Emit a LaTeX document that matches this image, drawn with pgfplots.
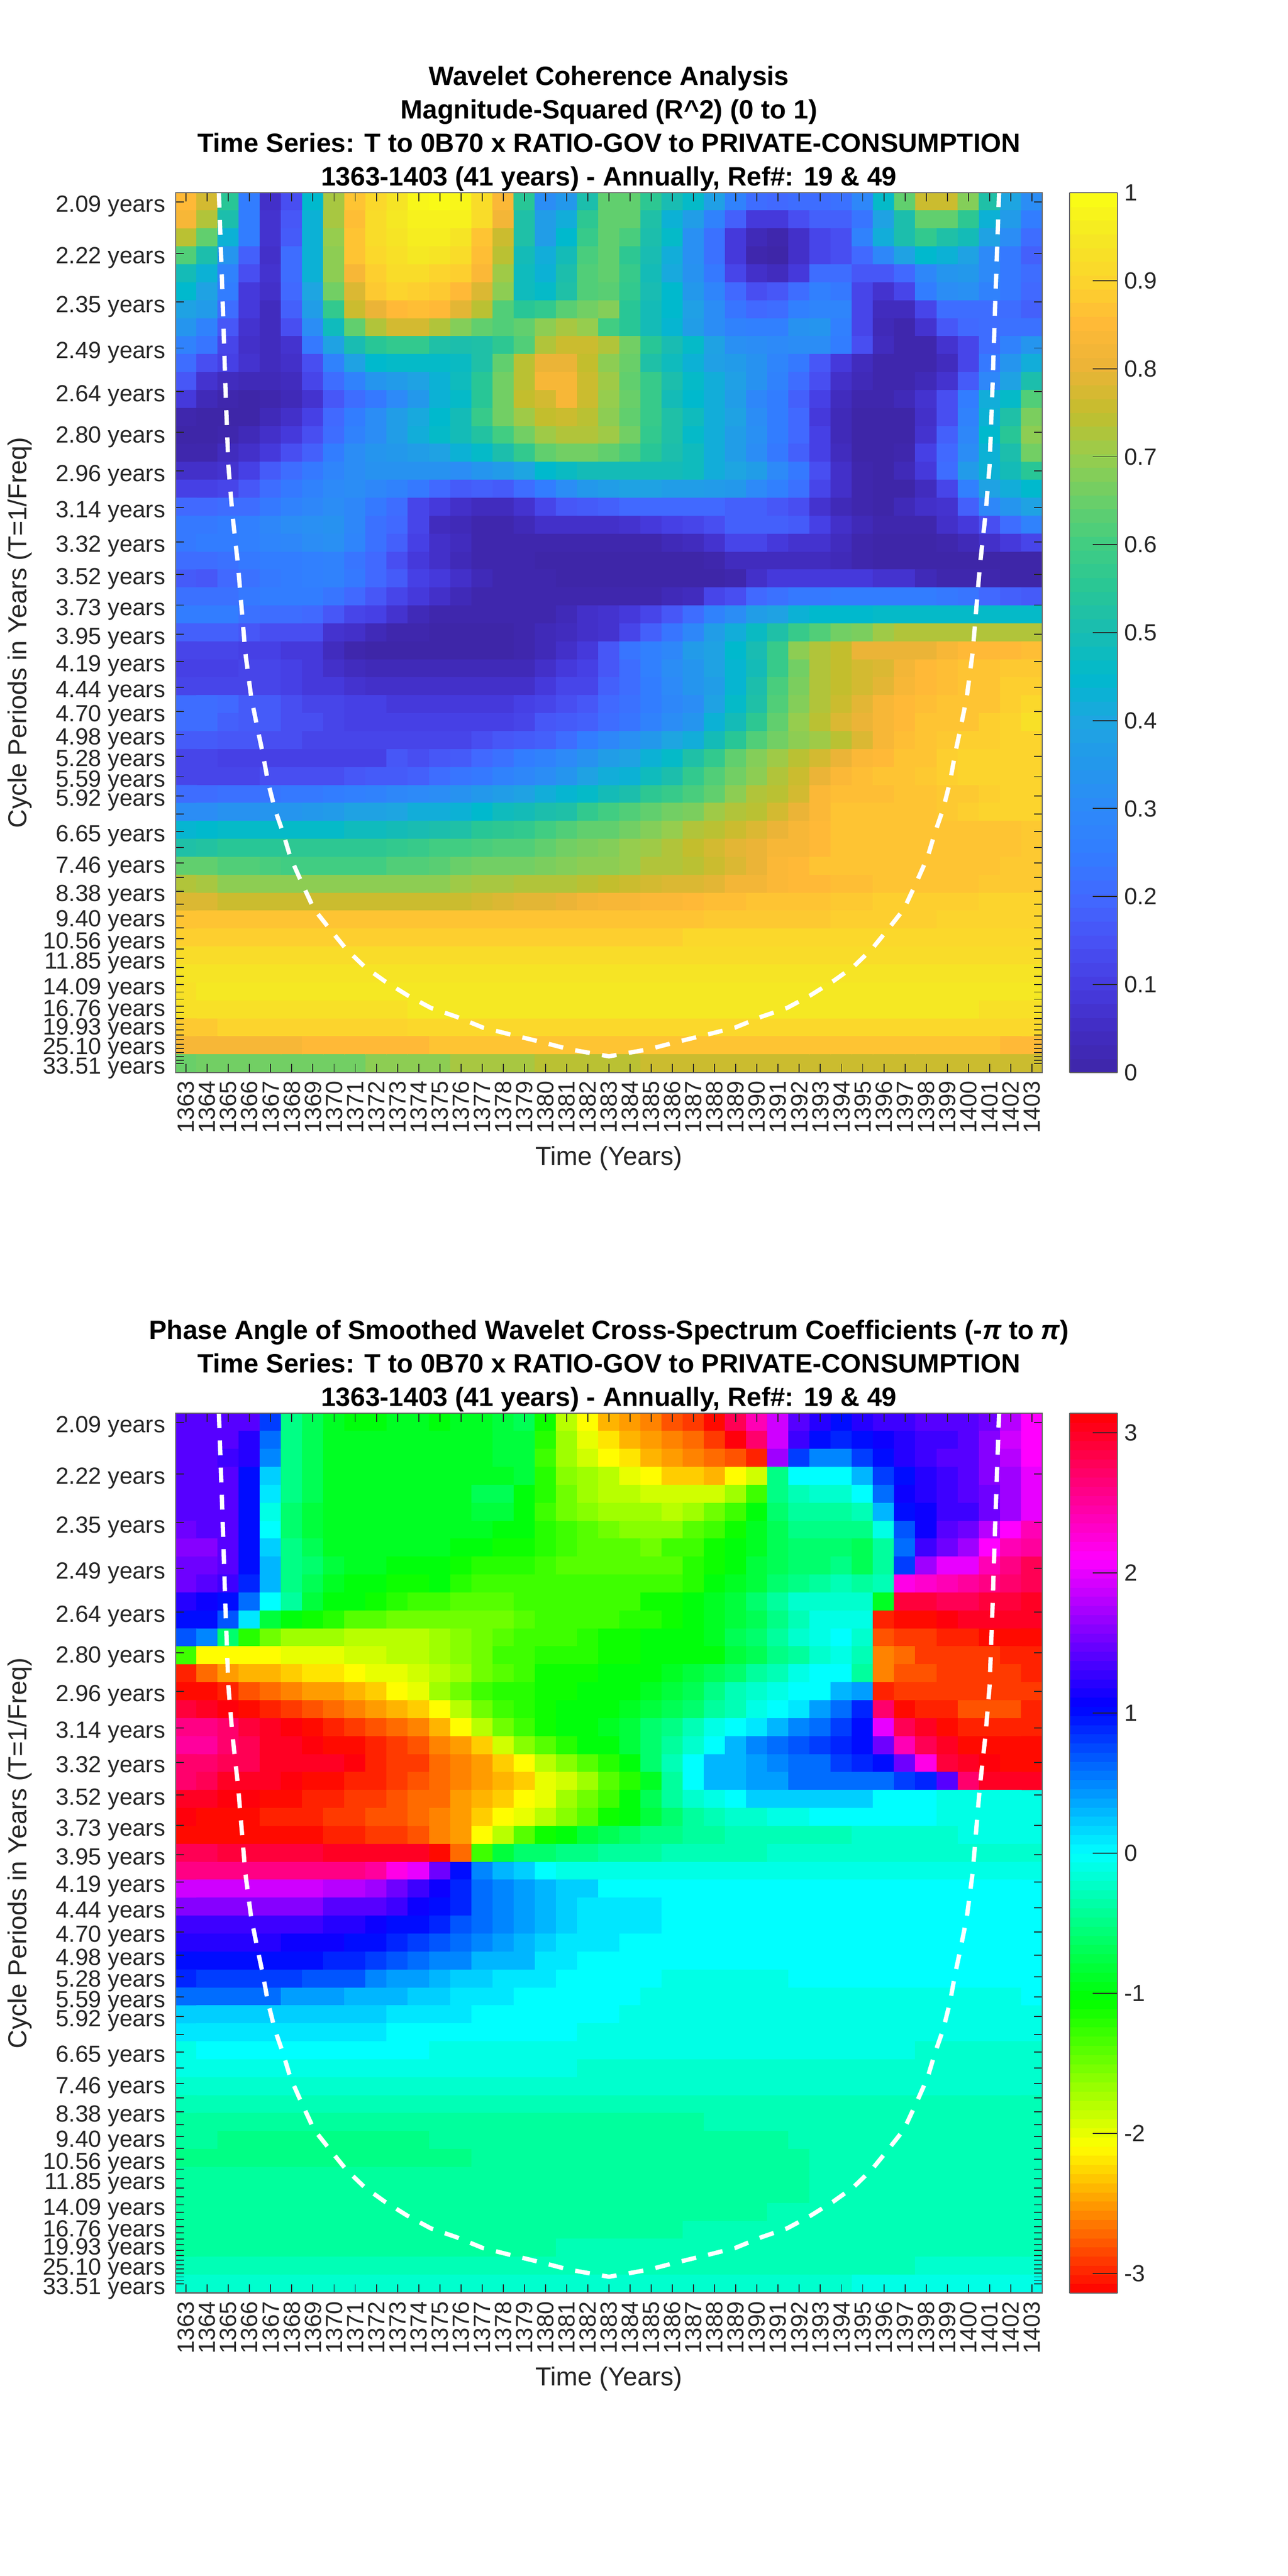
\documentclass[border=0pt]{standalone}
\usepackage{fontspec}
\setmainfont{Liberation Sans}
\usepackage{pgfplots}
\usepackage{pgfplotstable}
\pgfplotsset{compat=1.18}
\definecolor{axgray}{RGB}{38,38,38}
% colour-reading calibration for the coherence panel (percent -> colour bar scale)
\def\cal#1{\ifcase#1\space 0\or 1\or 3\or 4\or 6\or 7\or 9\or 11\or 12\or 14\or 16\or 17\or 18\or 20\or 21\or 22\or 23\or 24\or 25\or 26\or 27\or 28\or 29\or 30\or 31\or 32\or 33\or 34\or 35\or 36\or 37\or 38\or 39\or 39\or 40\or 41\or 42\or 42\or 43\or 44\or 45\or 46\or 46\or 47\or 48\or 49\or 49\or 50\or 51\or 51\or 52\or 53\or 55\or 56\or 57\or 58\or 60\or 61\or 62\or 63\or 64\or 65\or 66\or 66\or 67\or 68\or 69\or 70\or 71\or 72\or 73\or 73\or 74\or 75\or 76\or 77\or 78\or 79\or 80\or 82\or 83\or 84\or 85\or 86\or 87\or 87\or 88\or 89\or 90\or 91\or 92\or 92\or 93\or 94\or 95\or 96\or 97\or 98\or 99\or 99\or 100\fi}
\def\nocal#1{#1}
\pgfplotstableread[header=false]{
82 75 52 18 4 9 40 69 84 89 93 97 98 97 90 81 52 24 28 48 60 60 53 47 42 31 20 14 13 14 14 15 22 42 60 74 74 65 50 34 24
80 70 48 18 5 10 38 69 83 90 94 96 96 96 90 79 50 30 36 53 60 60 50 38 30 20 12 6 6 9 12 12 16 32 48 60 60 53 38 29 18
72 60 38 18 5 11 38 67 84 90 93 95 95 93 84 74 50 30 40 55 60 57 48 42 25 15 6 2 1 4 8 9 20 36 48 54 50 46 33 24 14
58 48 27 12 4 14 38 66 84 89 92 94 93 90 83 72 45 36 45 57 60 53 47 37 25 15 6 1 0 4 8 9 13 22 33 40 38 32 23 17 12
45 38 20 9 5 14 38 66 80 87 91 91 88 87 81 68 44 38 48 58 60 55 46 35 26 17 8 4 3 6 14 14 10 10 13 22 27 28 23 17 14
40 33 18 6 4 13 34 62 76 86 88 87 86 82 76 66 44 42 50 58 59 54 47 40 28 21 13 9 10 14 19 17 8 5 8 18 24 25 20 17 13
33 29 14 6 3 12 30 54 74 78 82 83 82 77 72 58 52 54 59 63 65 52 46 40 31 24 16 13 14 19 21 21 8 3 3 8 14 14 14 14 12
27 20 10 5 3 9 24 44 60 70 75 75 70 65 60 58 60 66 69 67 56 52 45 39 30 24 20 19 19 26 27 19 8 2 1 5 10 13 14 15 15
20 16 8 4 3 5 17 32 47 52 54 54 50 48 50 53 58 70 74 74 70 62 52 47 42 32 25 24 23 24 24 18 9 3 1 1 5 8 14 20 27
14 9 7 5 3 4 9 20 33 40 41 41 41 43 50 60 72 78 78 73 66 61 50 44 38 31 29 26 21 17 10 6 3 1 1 1 3 8 17 27 36
10 5 3 2 2 3 8 14 20 27 29 33 38 44 52 62 72 80 80 74 68 60 55 48 42 37 31 26 20 14 9 4 2 1 1 2 5 11 22 32 49
6 2 1 0 1 2 5 10 14 17 23 28 38 42 52 62 73 75 80 74 67 61 55 46 40 36 30 22 18 12 7 3 1 1 2 5 9 18 36 42 58
1 0 0 0 2 4 7 13 18 24 30 35 40 46 55 62 68 73 74 72 66 60 55 50 44 37 32 24 18 13 6 2 0 0 0 4 9 20 38 50 64
0 0 1 2 4 6 9 14 20 24 30 36 42 45 51 56 63 68 70 70 68 62 54 50 42 37 30 25 18 13 7 2 0 0 0 5 12 22 40 52 66
1 1 3 4 6 9 12 18 24 27 28 30 32 38 42 48 54 60 62 62 60 57 52 49 44 37 30 24 17 12 7 3 0 0 1 7 13 24 38 48 63
4 4 5 7 11 14 17 21 24 26 26 26 26 24 27 29 34 40 43 46 46 46 46 45 44 36 34 30 23 17 9 4 1 0 2 6 14 29 38 46 52
7 7 8 10 14 17 20 23 24 22 20 17 13 11 12 11 14 18 24 28 30 32 32 30 30 29 28 23 19 15 8 4 1 0 0 3 8 19 32 37 40
13 13 14 14 17 20 22 24 22 17 14 8 6 4 3 3 5 8 10 11 12 13 13 13 13 13 12 12 10 9 5 2 1 0 2 4 5 12 22 27 33
17 17 18 19 22 24 25 26 22 15 13 8 3 2 1 1 2 4 4 4 4 5 6 7 8 9 12 12 12 11 7 4 2 1 1 1 4 6 9 14 20
17 18 18 19 21 22 24 25 21 15 12 7 4 3 1 1 1 1 1 1 1 1 1 2 3 5 8 8 6 5 5 3 1 0 0 0 1 2 4 6 8
14 14 15 17 18 18 19 20 16 13 9 6 4 2 1 1 1 0 0 0 0 0 0 0 0 1 3 3 3 3 3 2 1 0 0 0 0 0 0 0 0
11 10 13 15 17 18 19 20 17 13 11 7 6 4 2 1 1 1 0 0 0 0 0 0 0 0 1 4 6 6 6 6 6 5 5 2 1 1 1 0 0
15 15 15 17 18 18 18 16 13 10 8 6 4 2 1 1 1 1 1 1 1 1 1 2 3 8 9 13 15 17 17 18 18 18 18 18 17 16 13 12 11
18 18 18 15 14 14 13 10 8 7 5 2 1 1 1 1 1 1 2 4 5 6 8 10 14 20 24 30 33 38 40 40 40 41 41 41 41 41 41 41 41
12 12 12 10 9 9 9 5 4 2 1 1 0 0 0 0 1 2 3 4 5 8 12 16 22 30 36 43 50 55 58 62 64 68 70 70 70 70 70 70 70
8 8 8 7 7 6 6 3 1 0 0 0 0 0 0 0 1 2 4 6 10 16 19 22 29 33 40 47 55 66 70 73 78 78 78 78 80 82 82 82 83
7 7 7 8 8 7 6 4 3 2 2 2 2 2 2 2 2 4 6 7 10 14 19 24 27 33 39 45 55 62 70 73 75 76 79 82 83 84 85 86 86
8 8 8 8 8 7 6 6 5 4 4 4 4 4 4 4 4 6 8 8 12 14 18 23 27 30 39 48 57 64 71 73 75 77 80 82 83 84 85 87 87
14 14 13 11 11 9 8 8 7 7 6 6 6 6 6 6 7 8 9 10 13 15 18 22 24 32 42 50 58 65 71 74 77 80 82 83 84 85 85 87 89
14 14 12 11 11 9 9 8 7 7 7 7 7 7 7 7 8 10 11 12 14 16 20 24 27 38 45 53 60 67 72 76 78 80 82 84 85 85 87 88 92
11 11 10 10 9 9 8 8 8 8 8 8 8 8 9 10 11 12 14 18 22 25 28 34 36 45 52 58 62 66 68 72 76 80 83 85 86 87 87 88 88
8 8 7 7 7 7 7 7 7 7 10 9 10 11 13 15 18 20 23 26 30 32 38 42 50 54 60 65 68 72 75 78 81 82 84 85 87 88 88 88 88
8 8 8 8 9 9 9 9 10 11 11 12 14 16 17 20 22 24 27 33 36 38 44 48 54 58 62 66 70 74 78 81 83 84 85 86 87 88 88 88 88
14 14 15 15 16 17 17 18 19 20 22 23 24 26 28 30 33 37 39 42 45 48 53 55 57 60 66 70 72 75 81 83 83 83 84 85 86 86 87 88 88
24 24 26 26 27 27 28 29 32 33 34 36 37 38 40 44 46 48 50 54 56 58 60 62 64 68 70 72 75 78 81 84 84 84 85 85 86 87 88 88 88
39 40 41 41 42 42 42 42 44 44 46 47 49 50 52 53 54 56 58 60 60 63 65 67 70 72 74 76 78 80 82 84 84 84 85 85 85 85 85 85 86
50 51 52 52 52 53 53 53 53 53 54 55 56 56 57 58 58 60 62 64 65 67 68 70 73 75 77 78 80 80 82 84 85 84 85 85 85 85 85 85 86
60 60 58 58 57 56 56 56 56 56 58 58 59 61 62 62 63 64 65 66 66 67 70 71 72 74 76 78 81 82 84 84 84 84 85 85 85 85 85 86 86
71 69 66 66 66 66 66 66 66 66 66 66 66 68 69 69 71 71 71 72 73 74 75 76 76 77 79 79 81 82 82 83 83 85 85 85 85 85 86 86 86
76 76 74 74 74 74 74 74 74 74 74 74 74 74 75 76 77 77 78 79 80 80 81 81 82 83 83 84 84 85 85 86 86 87 87 87 87 87 88 88 88
84 84 84 84 84 84 84 84 84 84 84 84 84 84 84 84 84 84 84 85 85 85 85 85 85 86 86 86 86 86 86 87 87 87 87 87 88 88 88 88 88
87 87 87 87 87 87 87 87 87 87 87 87 87 87 87 87 87 87 87 87 87 87 87 87 89 89 89 89 89 89 89 89 89 89 89 89 89 89 89 89 89
90 90 90 90 90 90 90 90 90 90 90 90 90 90 90 90 90 90 90 90 90 90 90 90 90 90 90 90 90 90 90 90 90 90 90 90 90 90 90 90 90
93 93 93 93 93 93 93 93 93 93 93 93 93 93 93 93 93 93 93 93 93 93 93 93 93 93 93 93 93 93 93 93 93 93 93 93 93 93 93 93 93
92 94 94 94 94 94 94 94 94 94 94 94 94 94 94 94 94 94 94 94 94 94 94 94 94 94 94 94 94 94 94 94 94 94 94 94 94 94 94 94 94
92 92 92 92 92 92 92 92 92 92 92 94 94 94 94 94 94 94 94 94 94 94 94 94 94 94 94 94 94 94 94 94 94 94 94 94 94 94 92 92 92
86 86 88 88 88 88 88 88 88 88 88 89 89 89 89 89 89 89 89 89 89 89 89 89 89 89 89 89 89 89 89 89 89 89 89 89 89 89 89 89 89
80 80 80 80 80 80 82 82 82 82 82 82 84 84 84 84 84 84 84 84 84 84 84 84 84 84 84 84 84 84 84 84 84 84 84 84 84 84 84 82 82
61 63 63 63 63 63 63 63 63 66 66 66 66 69 69 69 69 72 72 72 72 72 74 74 74 74 74 74 74 74 74 74 74 74 74 74 74 74 74 74 74
}\tabR
\pgfplotstableread[header=false]{
14 14 14 14 8 -5 -7 -9 -10 -10 -9 -9 -10 -9 -9 -8 -7 -11 -18 -21 -24 -25 -26 -28 -29 -31 28 24 19 14 12 10 12 13 13 14 14 14 15 18 21
14 14 14 12 6 -5 -7 -9 -9 -9 -9 -9 -9 -9 -9 -8 -8 -12 -17 -20 -22 -24 -25 -26 -27 -29 31 27 19 13 10 9 10 11 12 13 13 14 16 19 21
14 14 13 12 5 -5 -7 -9 -9 -9 -9 -9 -9 -9 -9 -8 -8 -13 -17 -19 -21 -22 -24 -25 -26 -27 -28 -30 17 8 5 5 8 10 12 13 14 14 16 18 21
14 14 14 10 2 -5 -7 -9 -9 -9 -9 -9 -9 -9 -9 -9 -8 -12 -16 -17 -18 -20 -21 -23 -23 -24 -21 -19 -5 0 0 0 3 8 10 12 13 14 16 17 20
14 14 14 10 1 -5 -7 -9 -9 -9 -9 -9 -9 -9 -7 -7 -10 -12 -15 -17 -18 -18 -19 -19 -19 -19 -17 -13 -5 -3 -2 -2 0 6 11 12 13 14 15 17 20
14 14 14 10 -1 -6 -8 -9 -9 -9 -9 -9 -9 -9 -8 -8 -10 -13 -15 -16 -17 -17 -17 -18 -17 -15 -13 -10 -6 -4 -4 -4 -3 3 10 11 13 13 15 17 20
15 14 14 10 0 -6 -8 -9 -9 -9 -9 -9 -9 -9 -9 -10 -10 -12 -13 -14 -15 -16 -16 -16 -14 -13 -11 -9 -7 -5 -5 -5 -5 -1 7 11 14 15 18 21 24
16 16 14 10 2 -5 -7 -9 -9 -9 -9 -9 -9 -10 -10 -11 -11 -12 -13 -14 -14 -14 -15 -13 -13 -11 -10 -9 -7 -6 -6 -6 -7 -4 6 13 15 17 21 24 25
15 15 14 10 3 -5 -6 -8 -9 -9 -10 -10 -10 -11 -12 -12 -12 -13 -14 -14 -14 -14 -14 -14 -12 -11 -10 -8 -7 -6 -6 -5 -7 -4 8 17 20 20 24 26 28
15 14 13 9 3 -5 -7 -9 -10 -10 -11 -11 -10 -12 -13 -13 -13 -13 -13 -13 -13 -13 -13 -13 -12 -10 -9 -8 -6 -5 -4 -3 -4 -3 22 23 24 25 26 27 28
12 11 10 6 0 -4 -8 -10 -10 -11 -12 -13 -13 -14 -14 -14 -13 -13 -13 -13 -13 -13 -11 -11 -10 -9 -8 -6 -4 -2 -2 -2 -2 -9 29 29 28 28 29 29 30
10 10 7 1 -8 -10 -11 -12 -14 -14 -15 -15 -15 -15 -15 -15 -14 -13 -13 -13 -13 -12 -12 -11 -10 -9 -8 -7 -5 -3 -1 -1 -1 -30 -31 -31 31 30 30 30 30
7 5 -6 -12 -15 -17 -17 -17 -18 -18 -18 -18 -17 -16 -15 -14 -13 -13 -13 -12 -11 -11 -10 -10 -10 -9 -7 -6 -4 -2 -1 0 -2 -28 -29 -29 -30 -30 -31 -31 -31
-13 -21 -21 -21 -21 -20 -20 -20 -19 -19 -18 -18 -17 -16 -15 -13 -13 -12 -12 -12 -11 -11 -10 -10 -10 -10 -8 -7 -5 -4 -2 -1 -3 -26 -27 -29 -29 -29 -29 -30 -30
-30 -27 -25 -24 -24 -23 -22 -22 -21 -20 -20 -19 -18 -17 -15 -14 -13 -11 -11 -11 -10 -10 -10 -9 -8 -7 -6 -4 -3 -1 0 0 -4 -26 -28 -28 -29 -29 -29 -29 -30
-31 -31 -30 -28 -27 -26 -25 -25 -24 -23 -21 -20 -17 -15 -13 -12 -12 -11 -11 -10 -10 -10 -9 -8 -7 -5 -3 -2 -1 0 0 3 4 -30 -29 -29 -29 -29 -29 -29 -29
29 30 31 -31 -30 -29 -28 -27 -26 -25 -24 -23 -21 -18 -15 -13 -12 -11 -10 -10 -10 -9 -8 -7 -6 -4 -3 -1 0 1 4 6 9 27 -31 -30 -30 -28 -28 -28 -30
26 26 27 29 30 31 -31 -30 -29 -28 -27 -26 -24 -21 -18 -15 -13 -11 -10 -10 -9 -8 -6 -5 -3 -1 0 1 3 5 6 8 10 20 28 30 -31 -30 -30 -30 -30
25 25 27 28 30 30 31 -31 -31 -30 -29 -28 -26 -25 -23 -19 -16 -14 -12 -10 -10 -8 -6 -4 -2 0 3 5 6 7 8 9 10 15 24 28 30 -31 -31 -31 -31
27 27 28 28 30 30 30 30 31 -30 -29 -29 -27 -26 -25 -23 -21 -18 -16 -14 -12 -10 -6 -3 0 3 3 4 5 6 6 8 9 10 15 22 29 30 31 -31 -31
27 28 30 30 30 31 -31 -31 -30 -30 -29 -28 -27 -26 -25 -24 -23 -20 -19 -17 -14 -12 -9 -4 0 3 3 4 4 6 6 6 6 6 8 9 14 27 30 30 30
30 30 31 31 -31 -31 -30 -30 -29 -29 -28 -27 -27 -25 -24 -23 -21 -20 -17 -15 -13 -10 -7 -4 -2 -1 0 2 2 2 2 2 2 0 0 0 -1 -1 -1 -1 -1
31 -31 -31 -31 -30 -30 -30 -29 -29 -28 -28 -27 -26 -25 -23 -21 -20 -18 -16 -14 -11 -10 -8 -6 -4 -3 -2 -2 -1 -1 0 0 0 0 0 0 -1 -1 -1 -1 -1
-31 -31 -31 -31 -31 -31 -31 -30 -30 -29 -29 -28 -26 -25 -21 -18 -14 -11 -10 -8 -7 -6 -5 -5 -4 -4 -3 -3 -3 -3 -3 -3 -2 -2 -2 -2 -2 -1 -1 -1 -1
28 28 29 29 29 29 29 30 30 30 30 30 -31 -27 -13 -8 -6 -6 -5 -5 -4 -4 -4 -3 -3 -3 -3 -3 -2 -2 -2 -2 -2 -2 -2 -2 -2 -2 -2 -2 -2
26 26 26 26 26 26 26 26 26 25 22 20 15 10 5 3 2 0 -1 -1 -1 -1 -1 -1 -1 -1 -1 -1 -1 -1 -1 -1 -1 -1 -1 -1 -1 -1 -1 -1 -1
19 19 19 19 19 19 19 18 18 17 15 13 11 9 6 5 4 3 2 2 0 0 0 0 0 0 0 0 0 0 0 0 0 0 0 0 0 0 0 0 0
16 16 16 16 16 16 16 14 14 14 13 11 10 9 6 5 4 3 2 1 1 1 1 0 0 0 0 0 0 0 0 0 0 0 0 0 0 0 0 0 0
13 13 13 13 13 13 13 12 12 11 10 10 9 7 6 5 4 3 2 1 1 1 1 0 0 0 0 0 0 0 0 0 0 0 0 0 0 0 0 0 0
12 12 12 12 12 11 11 11 10 10 9 8 7 6 5 4 3 2 1 1 1 0 0 0 0 0 0 0 0 0 0 0 0 0 0 0 0 0 0 0 0
10 10 10 10 10 10 10 9 9 8 7 6 5 5 3 3 3 1 1 0 0 0 0 0 0 0 0 0 0 0 0 0 0 0 0 0 0 0 0 0 0
9 8 8 8 8 8 7 7 7 5 4 4 3 2 2 1 1 1 0 0 0 0 0 -1 -1 -1 -1 -1 -1 0 0 0 0 0 0 0 0 0 0 0 0
6 6 6 6 6 4 4 4 3 3 3 2 2 1 1 1 0 0 0 0 0 0 -1 -1 -1 -1 -1 -1 -1 -1 -1 -1 -1 -1 -1 -1 -1 -1 -1 -1 0
2 2 2 2 2 2 2 2 2 2 1 1 1 1 0 0 0 0 0 0 0 -1 -1 -1 -1 -1 -1 -1 -1 -1 -1 -1 -1 -1 -1 -1 -1 -1 -1 -1 -1
1 1 1 1 1 1 1 1 1 1 0 0 0 0 0 0 0 0 0 -1 -1 -1 -1 -1 -1 -1 -1 -1 -1 -1 -1 -1 -1 -1 -1 -1 -1 -1 -1 -1 -1
-1 0 0 0 0 0 0 0 0 0 0 0 -1 -1 -1 -1 -1 -1 -1 -1 -1 -1 -1 -1 -1 -1 -1 -1 -1 -1 -1 -1 -1 -1 -1 -2 -2 -2 -2 -2 -2
-1 -1 -1 -1 -1 -1 -1 -1 -1 -1 -1 -1 -1 -1 -1 -1 -1 -1 -1 -2 -2 -2 -2 -2 -2 -2 -2 -2 -2 -2 -2 -2 -2 -2 -2 -2 -2 -2 -2 -2 -2
-2 -2 -2 -2 -2 -2 -2 -2 -2 -2 -2 -2 -2 -2 -2 -2 -2 -2 -2 -2 -2 -2 -2 -2 -2 -2 -2 -2 -2 -2 -2 -2 -2 -2 -2 -2 -2 -2 -2 -2 -2
-3 -3 -3 -3 -3 -3 -3 -3 -3 -3 -3 -3 -3 -3 -3 -3 -3 -3 -3 -3 -3 -3 -3 -3 -3 -3 -3 -3 -3 -3 -3 -3 -3 -3 -3 -3 -3 -3 -3 -3 -3
-4 -4 -4 -4 -4 -4 -4 -4 -4 -4 -4 -4 -4 -4 -4 -4 -4 -4 -4 -4 -4 -4 -4 -4 -4 -3 -3 -3 -3 -3 -3 -3 -3 -3 -3 -3 -3 -3 -3 -3 -3
-4 -4 -5 -5 -5 -5 -5 -5 -5 -5 -5 -5 -4 -4 -4 -4 -4 -4 -4 -4 -4 -4 -4 -4 -4 -4 -4 -4 -4 -3 -3 -3 -3 -3 -3 -3 -3 -3 -3 -3 -3
-5 -5 -5 -5 -5 -5 -5 -5 -5 -5 -5 -5 -5 -5 -4 -4 -4 -4 -4 -4 -4 -4 -4 -4 -4 -4 -4 -4 -4 -4 -3 -3 -3 -3 -3 -3 -3 -3 -3 -3 -3
-4 -4 -4 -4 -4 -4 -4 -4 -4 -4 -4 -4 -4 -4 -4 -4 -4 -4 -4 -4 -4 -4 -4 -4 -4 -4 -4 -4 -4 -4 -3 -3 -3 -3 -3 -3 -3 -3 -3 -3 -3
-4 -4 -4 -4 -4 -4 -4 -4 -4 -4 -4 -4 -4 -4 -4 -4 -4 -4 -4 -4 -4 -4 -4 -4 -4 -4 -4 -4 -4 -4 -3 -3 -3 -3 -3 -3 -3 -3 -3 -3 -3
-4 -4 -4 -4 -4 -4 -4 -4 -4 -4 -4 -4 -4 -4 -4 -4 -4 -4 -4 -4 -4 -4 -4 -4 -4 -4 -4 -4 -3 -3 -3 -3 -3 -3 -3 -3 -3 -3 -3 -3 -3
-4 -4 -4 -4 -4 -4 -4 -4 -4 -4 -4 -4 -4 -4 -4 -4 -4 -4 -4 -4 -4 -4 -4 -4 -3 -3 -3 -3 -3 -3 -3 -3 -3 -3 -3 -3 -3 -3 -3 -3 -3
-4 -4 -4 -4 -4 -4 -4 -4 -4 -4 -4 -4 -4 -4 -4 -4 -4 -4 -3 -3 -3 -3 -3 -3 -3 -3 -3 -3 -3 -3 -3 -3 -3 -3 -3 -3 -3 -3 -3 -3 -3
-3 -3 -3 -3 -3 -3 -3 -3 -3 -3 -3 -3 -3 -3 -3 -3 -3 -3 -3 -3 -3 -3 -3 -3 -3 -3 -3 -3 -3 -3 -3 -3 -3 -3 -3 -2 -2 -2 -2 -2 -2
-2 -2 -2 -2 -2 -2 -2 -2 -2 -2 -2 -2 -2 -2 -2 -2 -2 -2 -2 -2 -2 -2 -2 -2 -2 -2 -2 -2 -2 -2 -2 -2 -1 -1 -1 -1 -1 -1 -1 -1 -1
}\tabP
% turn a wide table (rows = cycle periods, columns = years) into a coordinate list
\newcommand\buildcoords[3]{%
  \gdef#2{}%
  \foreach \r in {0,...,48}{%
    \foreach \c in {0,...,40}{%
      \pgfplotstablegetelem{\r}{[index]\c}\of{#1}%
      \xdef#2{#2 (\the\numexpr1363+\c\relax,\the\numexpr\r+1\relax) [#3{\pgfplotsretval}]}%
    }%
  }%
}
\def\coordsR{}\def\coordsP{}
\pgfplotsset{
  colormap={parulaish}{
    rgb255=(62,38,168) rgb255=(66,45,195) rgb255=(70,60,225) rgb255=(72,82,245) rgb255=(65,105,255)
    rgb255=(50,125,255) rgb255=(45,138,248) rgb255=(35,152,235) rgb255=(30,165,225) rgb255=(0,185,205)
    rgb255=(25,188,178) rgb255=(40,198,150) rgb255=(65,205,130) rgb255=(105,207,105) rgb255=(150,205,78)
    rgb255=(195,190,45) rgb255=(235,180,55) rgb255=(255,185,55) rgb255=(252,212,45) rgb255=(245,232,35)
    rgb255=(250,255,20)},
  colormap={hsvshift}{
    rgb255=(255,0,0) rgb255=(255,255,0) rgb255=(0,255,0) rgb255=(0,255,255)
    rgb255=(0,0,255) rgb255=(255,0,255) rgb255=(255,0,0)},
  hm/.style={
    width=526pt, height=533.75pt, scale only axis, anchor=south west,
    axis on top, enlargelimits=false,
    xmin=1362.5, xmax=1403.5, ymin=0.5, ymax=49.5, y dir=reverse,
    xtick={1363,1364,1365,1366,1367,1368,1369,1370,1371,1372,1373,1374,1375,1376,1377,1378,1379,1380,1381,1382,1383,1384,1385,1386,1387,1388,1389,1390,1391,1392,1393,1394,1395,1396,1397,1398,1399,1400,1401,1402,1403},
    xticklabels={1363,1364,1365,1366,1367,1368,1369,1370,1371,1372,1373,1374,1375,1376,1377,1378,1379,1380,1381,1382,1383,1384,1385,1386,1387,1388,1389,1390,1391,1392,1393,1394,1395,1396,1397,1398,1399,1400,1401,1402,1403},
    ytick={1,3.874,6.586,9.146,11.562,13.844,15.996,18.028,19.946,21.756,23.465,25.078,26.6,28.037,29.393,30.673,31.881,33.022,34.098,36.073,37.833,39.4,40.797,42.041,43.149,44.589,45.8,46.818,47.928,49},
    yticklabels={2.09 years,2.22 years,2.35 years,2.49 years,2.64 years,2.80 years,2.96 years,3.14 years,3.32 years,3.52 years,3.73 years,3.95 years,4.19 years,4.44 years,4.70 years,4.98 years,5.28 years,5.59 years,5.92 years,6.65 years,7.46 years,8.38 years,9.40 years,10.56 years,11.85 years,14.09 years,16.76 years,19.93 years,25.10 years,33.51 years},
    minor ytick={35.114,36.978,38.639,40.118,41.437,42.611,43.657,44.137,45.016,45.419,46.159,46.498,47.12,47.406,47.675,48.168,48.394,48.608,48.809},
    xticklabel pos=lower, yticklabel pos=lower,
    tick align=inside, major tick length=5.2pt, minor tick length=5.2pt,
    every tick/.style={color=axgray,line width=0.6pt},
    axis line style={color=axgray!70,line width=0.7pt},
    tick label style={font=\fontsize{14.2pt}{16pt}\selectfont, text=axgray},
    xticklabel style={rotate=90, anchor=east, inner sep=5pt},
    yticklabel style={anchor=base east, inner sep=6pt, yshift=-6.2pt},
    label style={font=\fontsize{15.75pt}{18pt}\selectfont, text=axgray},
    xlabel={Time (Years)}, ylabel={Cycle Periods in Years (T=1/Freq)},
    xlabel style={at={(axis description cs:0.5,0)}, anchor=center, yshift=-52.25pt},
    ylabel style={at={(axis description cs:0,0.5)}, anchor=center, yshift=94.5pt},
    title style={font=\bfseries\fontsize{16.1pt}{20.3pt}\selectfont, align=center, text=black, at={(axis description cs:0.5,1)}, anchor=south, yshift=-8.5pt},
    colorbar sampled,
  },
  cb/.style={
    at={(parent axis.north east)}, anchor=north west, xshift=8pt,
    xmin=0, xmax=1, width=29pt, tick align=inside, major tick length=15pt,
    ytick pos=right, yticklabel pos=right,
    every tick/.style={color=axgray,line width=0.6pt},
    axis line style={color=axgray!70,line width=0.7pt},
    tick label style={font=\fontsize{14.2pt}{16pt}\selectfont, text=axgray},
    yticklabel style={anchor=west, inner sep=4pt},
  },
  coi/.style={white, line width=2.6pt, dash pattern=on 9pt off 7.5pt, no markers, forget plot},
}
\newcommand\coiline{%
  \addplot[coi] coordinates {
  (1364.55,0.5) (1364.73,6.5) (1364.86,11.3) (1365,15.7) (1365.19,18.4) (1365.46,21.3) (1365.68,24.4) (1365.8,26.1) (1366.08,28.6) (1366.37,30.3) (1366.64,31.8) (1366.87,33.3) (1367.19,34.8) (1367.6,36.2) (1367.93,37.5) (1368.42,38.8) (1369.05,40.4) (1369.79,41.5) (1370.55,42.6) (1371.43,43.6) (1372.38,44.4) (1373.47,45.2) (1374.57,45.9) (1375.8,46.4) (1377.04,47) (1378.4,47.4) (1379.8,47.8) (1381.1,48.2) (1383,48.6)
  (1384.9,48.2) (1386.2,47.8) (1387.6,47.4) (1388.96,47) (1390.2,46.4) (1391.43,45.9) (1392.53,45.2) (1393.62,44.4) (1394.57,43.6) (1395.45,42.6) (1396.21,41.5) (1396.95,40.4) (1397.58,38.8) (1398.07,37.5) (1398.4,36.2) (1398.81,34.8) (1399.13,33.3) (1399.36,31.8) (1399.63,30.3) (1399.92,28.6) (1400.2,26.1) (1400.32,24.4) (1400.54,21.3) (1400.81,18.4) (1401,15.7) (1401.14,11.3) (1401.27,6.5) (1401.45,0.5)};
}
\begin{document}
\buildcoords{\tabR}{\coordsR}{\cal}%
\buildcoords{\tabP}{\coordsP}{\nocal}%
\begin{tikzpicture}
\path[use as bounding box] (0,0) rectangle (781.25pt,1563pt);
\begin{axis}[hm, at={(106.5pt,912.25pt)},
  colormap name=parulaish, point meta min=0, point meta max=100,
  title={Wavelet Coherence Analysis\\Magnitude-Squared (R\^{}2) (0 to 1)\\Time Series: T to 0B70 x RATIO-GOV to PRIVATE-CONSUMPTION\\1363-1403 (41 years) - Annually, Ref\#: 19 \& 49},
  colorbar style={cb, samples=65, ytick={0,10,20,30,40,50,60,70,80,90,100}, yticklabels={0,0.1,0.2,0.3,0.4,0.5,0.6,0.7,0.8,0.9,1}}]
\def\doplot#1{\addplot[matrix plot*, mesh/cols=41, mesh/ordering=x varies, point meta=explicit] coordinates {#1};}
\expandafter\doplot\expandafter{\coordsR}
\coiline
\end{axis}
\begin{axis}[hm, at={(106.5pt,171.75pt)},
  colormap name=hsvshift, point meta min=-31.4, point meta max=31.4,
  title={Phase Angle of Smoothed Wavelet Cross-Spectrum Coefficients (-{\itshape π} to {\itshape π})\\Time Series: T to 0B70 x RATIO-GOV to PRIVATE-CONSUMPTION\\1363-1403 (41 years) - Annually, Ref\#: 19 \& 49},
  colorbar style={cb, samples=97, ytick={-30,-20,-10,0,10,20,30}, yticklabels={-3,-2,-1,0,1,2,3}}]
\def\doplot#1{\addplot[matrix plot*, mesh/cols=41, mesh/ordering=x varies, point meta=explicit] coordinates {#1};}
\expandafter\doplot\expandafter{\coordsP}
\coiline
\end{axis}
\end{tikzpicture}
\end{document}
